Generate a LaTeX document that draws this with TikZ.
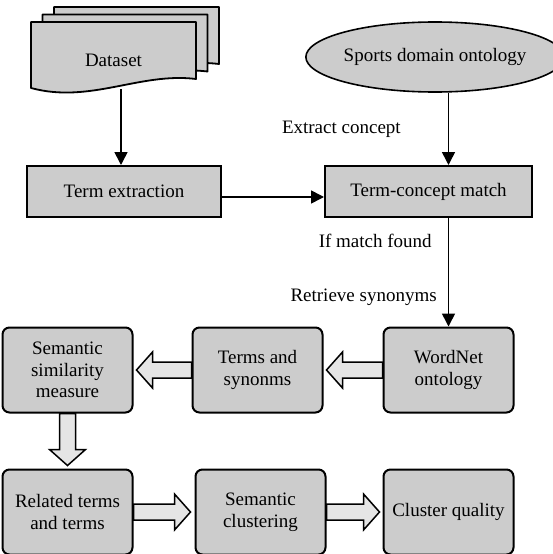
\documentclass[tikz,border=0pt]{standalone}
\usepackage{fontspec}
\setmainfont{Liberation Serif}
\usetikzlibrary{arrows.meta,positioning,shapes.geometric}

\definecolor{boxgray}{gray}{0.8}
\definecolor{arrowgray}{gray}{0.9}

\tikzset{
  box/.style={draw, line width=2pt, fill=boxgray, minimum height=51pt, inner sep=2pt},
  rbox/.style={draw, line width=2pt, fill=boxgray, rounded corners=7pt, minimum width=130pt, minimum height=85pt, align=center, inner sep=2pt},
  onto/.style={ellipse, draw, line width=1.6pt, fill=boxgray, minimum width=220pt, minimum height=70pt, inner sep=0pt},
  docline/.style={draw, line width=1.8pt, fill=boxgray, line join=round},
  arrow/.style={-{Triangle[length=13pt,width=13pt]}, line width=1.6pt},
  hollowline/.style={draw, line width=1.5pt, fill=arrowgray, line join=miter},
  lbl/.style={inner sep=0pt}
}

% hollow block arrow: start, rotation, length
\newcommand\hollowarrow[3]{%
  \draw[hollowline, shift={(#1)}, rotate=#2]
    (0,-8) -- (#3-16,-8) -- (#3-16,-18) -- (#3,0) -- (#3-16,18) -- (#3-16,8) -- (0,8) -- cycle;}

\begin{document}
\begin{tikzpicture}[x=1pt, y=-1pt, font=\fontsize{19}{21.7}\selectfont]
  \useasboundingbox (0,0) rectangle (553,554);

  \coordinate (dscenter) at (113.5,60);
  \foreach \dx/\dy in {23/-15, 11.5/-7.5, 0/0}
    \draw[docline, shift={(dscenter)}, shift={(\dx,\dy)}]
      (-82.5,-38) -- (82.5,-38) -- (82.5,19)
      .. controls (26.5,12) and (-23.5,44) .. (-82.5,28) -- cycle;
  \node (dataset) at (dscenter) {Dataset};
  \coordinate (dsbottom) at ([xshift=7.5pt,yshift=-29pt]dataset.center);

  \node[box, minimum width=207pt] (tcm) at (428.5,191.5) {Term-concept match};
  \node[box, minimum width=194pt] (te) [left=102pt of tcm] {Term extraction};
  \node[onto] (onto) at (435,57) {Sports domain ontology};

  \node[rbox] (wordnet) at (448.5,370) {WordNet\\ontology};
  \node[rbox] (terms)   [left=59pt of wordnet] {Terms and\\synonms};
  \node[rbox] (ssm)     [left=58pt of terms] {Semantic\\similarity\\measure};
  \node[rbox] (related) [below=55pt of ssm] {Related terms\\and terms};
  \node[rbox] (cluster) [right=61pt of related] {Semantic\\clustering};
  \node[rbox] (quality) [right=56pt of cluster] {Cluster quality};

  \draw[arrow] (dsbottom) -- (dsbottom |- te.north);
  \draw[arrow] ([yshift=-5.5pt]te.east) -- ([yshift=-5.5pt]tcm.west);
  \draw[arrow] (onto.south -| wordnet.north) -- node[lbl, left=47pt] {Extract concept} (tcm.north -| wordnet.north);
  \draw[arrow] (tcm.south -| wordnet.north) -- node[lbl, pos=0.21, left=16pt] {If match found}
    node[lbl, pos=0.73, left=11pt] {Retrieve synonyms} (wordnet.north);

  \hollowarrow{wordnet.west}{180}{56}
  \hollowarrow{terms.west}{180}{55}
  \hollowarrow{ssm.south}{-90}{52}
  \hollowarrow{related.east}{0}{57}
  \hollowarrow{cluster.east}{0}{53}
\end{tikzpicture}
\end{document}
